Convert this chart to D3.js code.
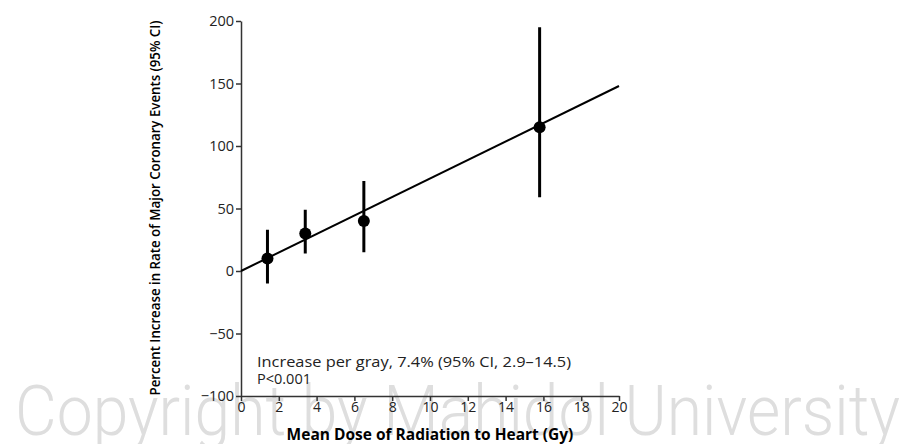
<!DOCTYPE html>
<html lang="en">
<head>
<meta charset="utf-8">
<title>Radiation dose and coronary events</title>
<script src="https://cdnjs.cloudflare.com/ajax/libs/d3/7.8.5/d3.min.js"></script>
<style>
  body { margin: 0; background: white; }
  svg text { font-family: "Open Sans", Lato, sans-serif; }
  .axis path, .axis line { stroke: #333; stroke-width: 1.5; }
  .axis text { font-size: 14.5px; fill: #222; font-family: "Open Sans", sans-serif; }
  .x-axis text { font-size: 14px; }
</style>
</head>
<body>
<div id="chart"></div>
<script>
// data
const doses = [1.4, 3.4, 6.5, 15.8];
const increase = [10, 30, 40, 115];
const ciLow = [-10, 14, 15, 59];
const ciHigh = [33, 49, 72, 195];
const slope = 7.4;          // fitted % per Gy
const xTicks = [0, 2, 4, 6, 8, 10, 12, 14, 16, 18, 20];
const yTicks = [-100, -50, 0, 50, 100, 150, 200];

const width = 914, height = 444;

const svg = d3.select("#chart").append("svg")
  .attr("width", width)
  .attr("height", height);

// watermark behind everything
svg.append("text")
  .attr("x", 15)
  .attr("y", 435)
  .attr("textLength", 885)
  .attr("lengthAdjust", "spacingAndGlyphs")
  .style("font-family", "Roboto, sans-serif")
  .style("font-weight", 300)
  .style("font-size", "70px")
  .attr("fill", "#dedede")
  .text("Copyright by Mahidol University");

const x = d3.scaleLinear().domain([0, 20]).range([241, 619]);
const y = d3.scaleLinear().domain([-100, 200]).range([396, 21]);

svg.append("g")
  .attr("class", "axis x-axis")
  .attr("transform", `translate(0,${y(-100)})`)
  .call(d3.axisBottom(x).tickValues(xTicks).tickSize(5).tickSizeOuter(0).tickPadding(1));

svg.append("g")
  .attr("class", "axis")
  .attr("transform", `translate(${x(0)},0)`)
  .call(d3.axisLeft(y).tickValues(yTicks).tickSize(5).tickSizeOuter(0).tickPadding(2)
    .tickFormat(d => d < 0 ? "\u2212" + Math.abs(d) : d));

// fitted line
svg.append("line")
  .attr("x1", x(0)).attr("y1", y(0))
  .attr("x2", x(20)).attr("y2", y(slope * 20))
  .attr("stroke", "black")
  .attr("stroke-width", 2);

const pts = doses.map((d, i) => ({ dose: d, val: increase[i], lo: ciLow[i], hi: ciHigh[i] }));

svg.append("g").selectAll("line")
  .data(pts)
  .enter()
  .append("line")
    .attr("x1", d => x(d.dose)).attr("x2", d => x(d.dose))
    .attr("y1", d => y(d.lo)).attr("y2", d => y(d.hi))
    .attr("stroke", "black")
    .attr("stroke-width", 3);

svg.append("g").selectAll("circle")
  .data(pts)
  .enter()
  .append("circle")
    .attr("cx", d => x(d.dose))
    .attr("cy", d => y(d.val))
    .attr("r", 6)
    .attr("fill", "black");

// annotation
svg.append("text")
  .attr("x", 257).attr("y", 367)
  .attr("textLength", 314)
  .attr("lengthAdjust", "spacingAndGlyphs")
  .style("font-size", "14.5px")
  .attr("fill", "#222")
  .text("Increase per gray, 7.4% (95% CI, 2.9\u201314.5)");
svg.append("text")
  .attr("x", 257).attr("y", 384)
  .style("font-size", "14.5px")
  .attr("fill", "#222")
  .text("P<0.001");

// axis titles
svg.append("text")
  .attr("x", 430).attr("y", 440)
  .attr("text-anchor", "middle")
  .style("font-size", "15.5px")
  .style("font-weight", "bold")
  .text("Mean Dose of Radiation to Heart (Gy)");

svg.append("text")
  .attr("transform", "translate(160,208) rotate(-90)")
  .attr("text-anchor", "middle")
  .attr("textLength", 375)
  .attr("lengthAdjust", "spacingAndGlyphs")
  .style("font-size", "14px")
  .style("font-weight", 600)
  .text("Percent Increase in Rate of Major Coronary Events (95% CI)");
</script>
</body>
</html>
